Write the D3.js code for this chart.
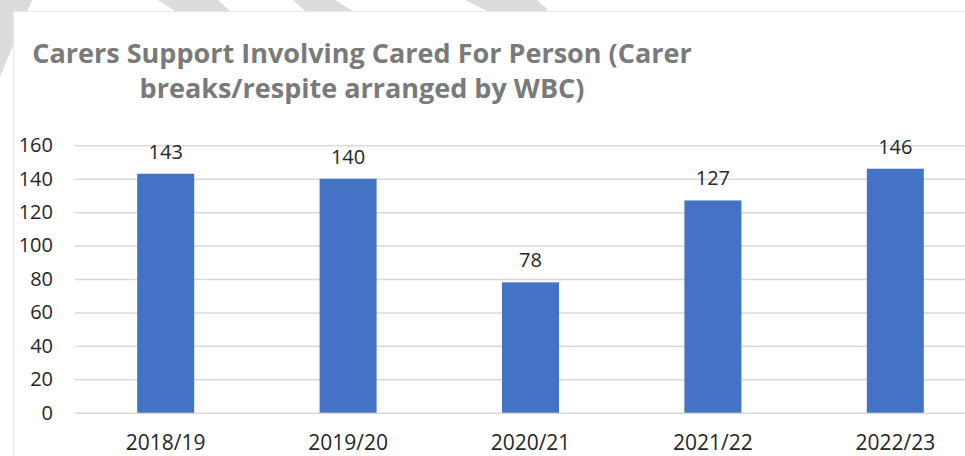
<!DOCTYPE html>
<html>
<head>
<meta charset="utf-8">
<script src="https://cdn.jsdelivr.net/npm/d3@7"></script>
<style>
    body { margin: 0; background: #ffffff; }
    svg { display: block; }
</style>
</head>
<body>
<div id="chart"></div>
<script>
var years = ["2018/19", "2019/20", "2020/21", "2021/22", "2022/23"];
var breaks = [143, 140, 78, 127, 146];
var yTicks = [0, 20, 40, 60, 80, 100, 120, 140, 160];
var titleLines = ["Carers Support Involving Cared For Person (Carer", "breaks/respite arranged by WBC)"];

var width = 965,
    height = 456;

var svg = d3.select("#chart")
    .append("svg")
    .attr("width", width)
    .attr("height", height);

// faint diagonal stripes behind the chart panel
var stripes = [
    [[0, 0], [32, 0], [0, 77]],
    [[158, 0], [218, 0], [230, 11], [175, 11]],
    [[293, 0], [335, 0], [353, 11], [305, 11]],
    [[465, 0], [537, 0], [547, 9], [547, 11], [487, 11]]
];
svg.selectAll("polygon.stripe")
    .data(stripes)
    .enter().append("polygon")
    .attr("class", "stripe")
    .attr("points", function (d) { return d.map(function (p) { return p.join(","); }).join(" "); })
    .style("fill", "#dcdcdc");

// chart panel
svg.append("rect")
    .attr("x", 13.5)
    .attr("y", 11.5)
    .attr("width", width)
    .attr("height", height)
    .style("fill", "#ffffff")
    .style("stroke", "#e8e8e8")
    .style("stroke-width", 1);

var x = d3.scaleBand()
    .domain(years)
    .range([74.5, 986.5])
    .paddingInner(0.6875)
    .paddingOuter(0.34375);

var y = d3.scaleLinear()
    .domain([0, 160])
    .range([412.7, 145.3]);

// gridlines
var grid = svg.append("g")
    .attr("transform", "translate(75,0)")
    .call(d3.axisLeft(y).tickValues(yTicks).tickSize(-(width - 75)).tickFormat(""));
grid.select(".domain").remove();
grid.selectAll("line").style("stroke", "#d9d9d9").style("stroke-width", 1.5);

// y labels
var yAxis = svg.append("g")
    .attr("transform", "translate(53,0)")
    .call(d3.axisLeft(y).tickValues(yTicks).tickSize(0).tickPadding(0));
yAxis.select(".domain").remove();
yAxis.selectAll("text")
    .style("font-family", "'Open Sans', sans-serif")
    .style("font-size", "20px")
    .style("fill", "#262626");

// bars
svg.selectAll("rect.bar")
    .data(years)
    .enter().append("rect")
    .attr("class", "bar")
    .attr("x", function (d) { return x(d); })
    .attr("width", x.bandwidth())
    .attr("y", function (d, i) { return y(breaks[i]); })
    .attr("height", function (d, i) { return y(0) - y(breaks[i]); })
    .style("fill", "#4472C4");

// value labels
svg.selectAll("text.value")
    .data(years)
    .enter().append("text")
    .attr("class", "value")
    .attr("x", function (d) { return x(d) + x.bandwidth() / 2; })
    .attr("y", function (d, i) { return y(breaks[i]) - 15; })
    .attr("text-anchor", "middle")
    .style("font-family", "'Open Sans', sans-serif")
    .style("font-size", "20px")
    .style("fill", "#262626")
    .text(function (d, i) { return breaks[i]; });

// x labels
var xAxis = svg.append("g")
    .attr("transform", "translate(0," + 412.7 + ")")
    .call(d3.axisBottom(x).tickSize(0).tickPadding(22));
xAxis.select(".domain").remove();
xAxis.selectAll("text")
    .style("font-family", "'Open Sans', sans-serif")
    .style("font-size", "21px")
    .style("fill", "#262626");

// title
svg.selectAll("text.title")
    .data(titleLines)
    .enter().append("text")
    .attr("class", "title")
    .attr("x", 362)
    .attr("y", function (d, i) { return 63 + i * 35; })
    .attr("text-anchor", "middle")
    .style("font-family", "'Open Sans', sans-serif")
    .style("font-weight", "bold")
    .style("font-size", "27px")
    .style("fill", "#7a7a7a")
    .text(function (d) { return d; });
</script>
</body>
</html>
